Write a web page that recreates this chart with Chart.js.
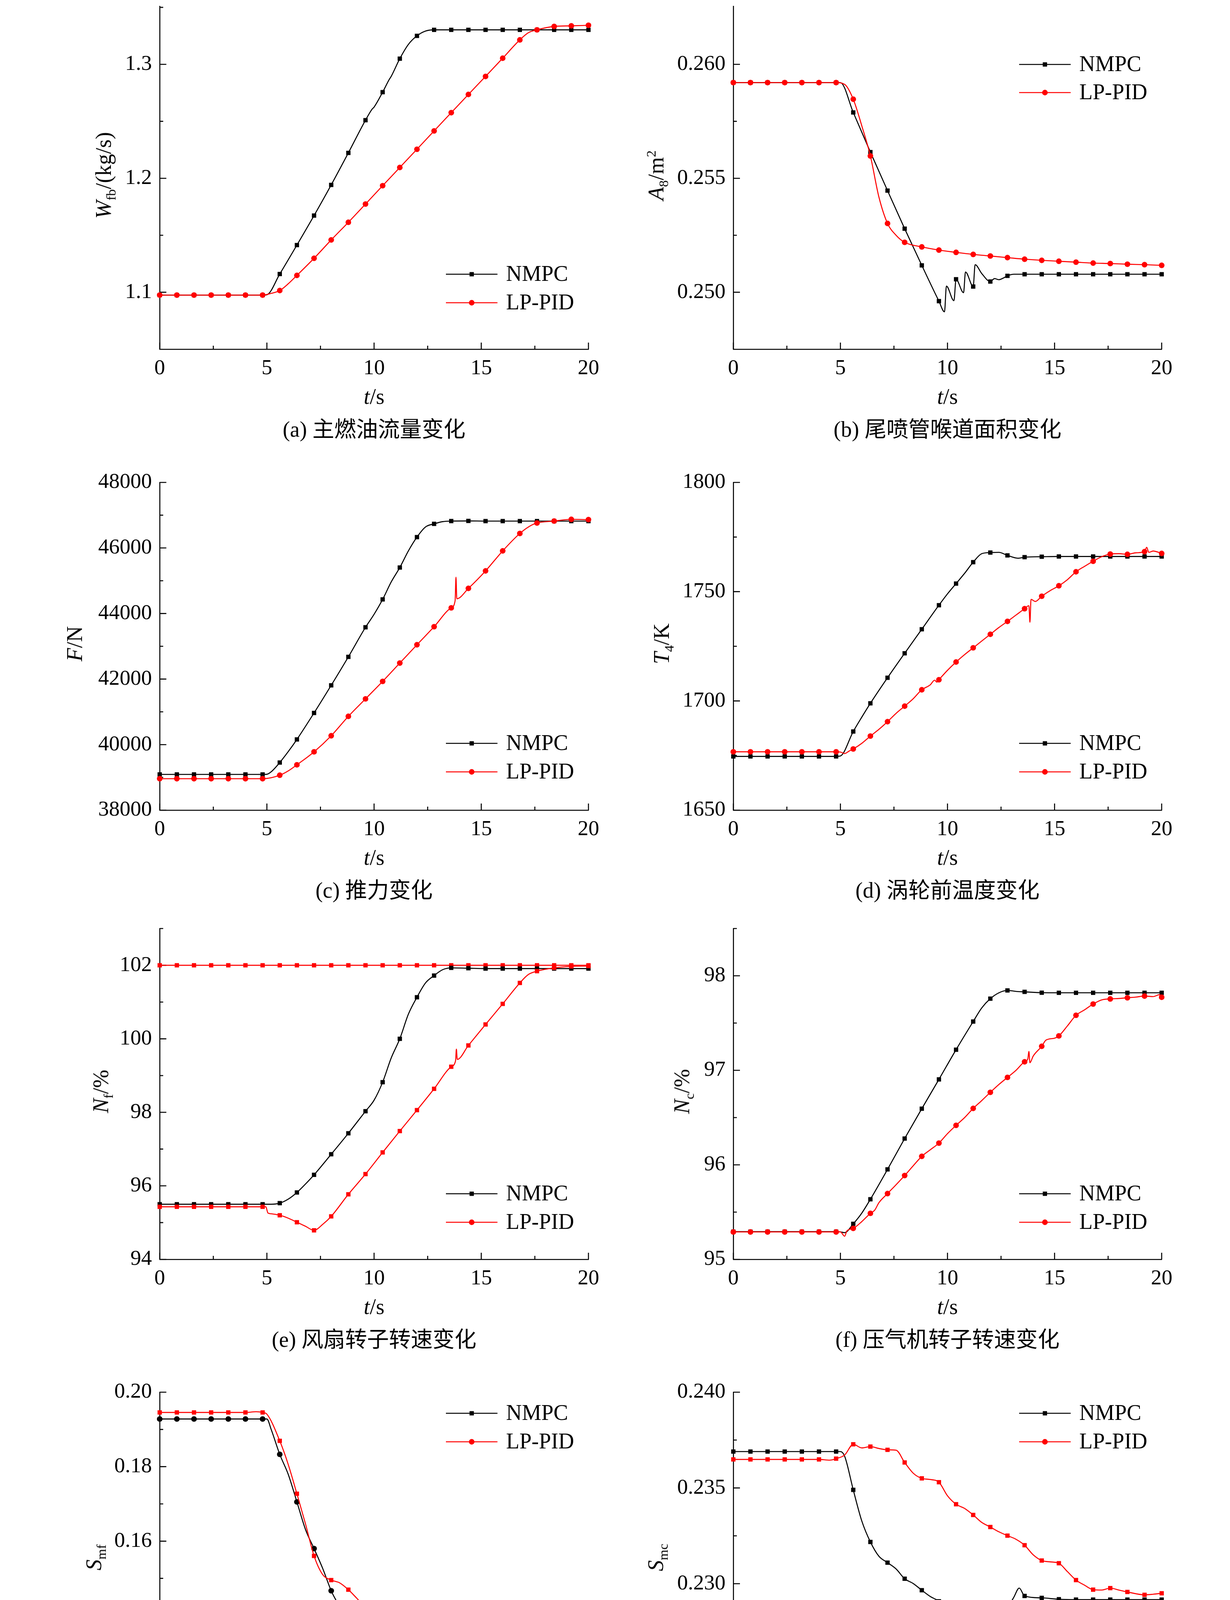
<!DOCTYPE html>
<html><head><meta charset="utf-8">
<script src="https://cdn.jsdelivr.net/npm/chart.js@4.4.1/dist/chart.umd.min.js"></script>
<style>
html,body{margin:0;padding:0;background:#fff;}
body{position:relative;width:3150px;height:4665px;overflow:hidden;font-family:'Liberation Serif','Noto Sans CJK SC',serif;color:#000;}
canvas{position:absolute;}
.t{position:absolute;white-space:nowrap;font-size:56px;line-height:1;font-family:'Liberation Serif','Noto Sans CJK SC',serif;}
.yt{transform:translate(-50%,-50%) rotate(-90deg);}
.xt{transform:translate(-50%,-50%);}
sub,sup{font-size:0.62em;line-height:0;}
</style></head><body>
<script>
// ---------------- DATA ----------------
const xMajor = [0, 5, 10, 15, 20];
const xMinor = [2.5, 7.5, 12.5, 17.5];
const markerStep = 0.8;

// (a) main fuel flow
const aTicks = [1.1, 1.2, 1.3];
const aMinor = [1.15, 1.25, 1.35];
const aNMPC = [[0,1.0975],[0.8,1.0975],[1.6,1.0975],[2.4,1.0975],[3.2,1.0975],[4,1.0975],[4.8,1.0975],[5,1.0978],[5.6,1.116],[6.4,1.1414],[7.2,1.1673],[8,1.1942],[8.8,1.2223],[9.6,1.251],[9.9,1.2605],[10,1.2625],[10.4,1.2756],[10.7,1.2865],[10.8,1.2895],[11.2,1.305],[11.6,1.3175],[12,1.325],[12.4,1.3292],[12.8,1.3303],[13.6,1.3303],[14.4,1.3303],[15.2,1.3303],[16,1.3303],[16.8,1.3303],[17.6,1.3303],[18.4,1.3303],[19.2,1.3303],[20,1.3303]];
const aPID = [[0,1.0975],[0.8,1.0975],[1.6,1.0975],[2.4,1.0975],[3.2,1.0975],[4,1.0975],[4.8,1.0975],[5.2,1.099],[5.6,1.1015],[6,1.1075],[6.4,1.1148],[7.2,1.1298],[8,1.1459],[8.8,1.1614],[9.6,1.1774],[10.4,1.1935],[11.2,1.2095],[12,1.2255],[12.8,1.2416],[13.6,1.2576],[14.4,1.2736],[15.2,1.2894],[16,1.3054],[16.8,1.3215],[17.2,1.3278],[17.6,1.3303],[18.4,1.3333],[19.2,1.3338],[20,1.3343]];

// (b) nozzle throat area
const bTicks = [0.250, 0.255, 0.260];
const bMinor = [0.2525, 0.2575];
const bNMPC = [[0,0.2592],[0.8,0.2592],[1.6,0.2592],[2.4,0.2592],[3.2,0.2592],[4,0.2592],[4.8,0.2592],[5,0.2592],[5.6,0.25789],[6.4,0.25615],[7.2,0.25446],[8,0.25279],[8.8,0.25118],[9.6,0.24961],[9.86,0.24914],[9.95,0.25027],[10.3,0.24963],[10.4,0.25057],[10.75,0.24998],[10.84,0.25089],[11.2,0.25025],[11.29,0.25121],[11.6,0.25082],[12,0.25047],[12.2,0.2506],[12.4,0.25055],[12.6,0.25062],[12.8,0.25072],[13.1,0.25079],[13.6,0.25079],[14.4,0.25079],[15.2,0.25079],[16,0.25079],[16.8,0.25079],[17.6,0.25079],[18.4,0.25079],[19.2,0.25079],[20,0.25079]];
const bPID = [[0,0.2592],[0.8,0.2592],[1.6,0.2592],[2.4,0.2592],[3.2,0.2592],[4,0.2592],[4.8,0.2592],[5.2,0.25912],[5.6,0.25847],[6,0.2573],[6.4,0.25598],[6.8,0.25417],[7.2,0.25302],[7.6,0.2525],[8,0.25219],[8.8,0.25199],[9.6,0.25185],[10.4,0.25175],[11.2,0.25166],[12,0.25159],[12.8,0.25152],[13.6,0.25145],[14.4,0.2514],[15.2,0.25136],[16,0.25132],[16.8,0.25128],[17.6,0.25126],[18.4,0.25123],[19.2,0.25121],[20,0.25118]];

// (c) thrust
const cTicks = [38000, 40000, 42000, 44000, 46000, 48000];
const cMinor = [39000, 41000, 43000, 45000, 47000];
const cNMPC = [[0,39090],[0.8,39090],[1.6,39090],[2.4,39090],[3.2,39090],[4,39090],[4.8,39090],[5,39095],[5.2,39170],[5.6,39453],[6,39790],[6.4,40158],[7.2,40966],[8,41809],[8.8,42677],[9.6,43580],[10,43976],[10.4,44431],[10.8,44964],[11.2,45403],[11.6,45910],[12,46331],[12.4,46641],[12.8,46736],[13.2,46804],[13.6,46821],[14.4,46825],[15.2,46820],[16,46820],[16.8,46820],[17.6,46820],[18.4,46820],[19.2,46820],[20,46820]];
const cPID = [[0,38960],[0.8,38960],[1.6,38960],[2.4,38960],[3.2,38960],[4,38960],[4.8,38960],[5.2,38990],[5.6,39066],[6,39200],[6.4,39384],[7.2,39780],[8,40270],[8.8,40863],[9.6,41396],[10.4,41929],[11.2,42488],[12,43047],[12.8,43597],[13.6,44173],[13.78,44390],[13.82,45110],[13.86,44450],[14.4,44767],[15.2,45300],[16,45911],[16.8,46443],[17.2,46641],[17.6,46762],[18.4,46821],[19.2,46873],[20,46865]];

// (d) turbine inlet temperature
const dTicks = [1650, 1700, 1750, 1800];
const dMinor = [1675, 1725, 1775];
const dNMPC = [[0,1674.6],[0.8,1674.6],[1.6,1674.6],[2.4,1674.6],[3.2,1674.6],[4,1674.6],[4.8,1674.6],[5,1674.8],[5.6,1686],[6,1692.6],[6.4,1698.9],[7.2,1710.6],[8,1721.8],[8.8,1732.8],[9.6,1743.8],[10,1749],[10.4,1753.7],[10.8,1758.4],[11.2,1763.5],[11.6,1767.4],[12,1767.9],[12.4,1768],[12.8,1766.6],[13.3,1765.3],[13.6,1765.8],[14.4,1766],[15.2,1766.1],[16,1766.1],[16.8,1766.1],[17.6,1766.1],[18.4,1766.1],[19.2,1766.1],[20,1766.1]];
const dPID = [[0,1676.7],[0.8,1676.7],[1.6,1676.7],[2.4,1676.7],[3.2,1676.7],[4,1676.7],[4.8,1676.7],[5,1676.6],[5.2,1675.9],[5.4,1677],[5.6,1678],[6,1680.6],[6.4,1683.9],[6.8,1687],[7.2,1690.5],[7.6,1694.3],[8,1697.6],[8.4,1701],[8.8,1705.1],[9.2,1707.4],[9.4,1709.5],[9.5,1708.6],[9.6,1709.7],[10,1714],[10.4,1717.8],[10.8,1721.2],[11.2,1724.3],[11.6,1727.4],[12,1730.5],[12.4,1733.6],[12.8,1736.4],[13.2,1739.3],[13.6,1742.2],[13.8,1743.6],[13.85,1736],[13.9,1746.5],[14.1,1745.5],[14.4,1747.9],[14.8,1750.5],[15.2,1752.7],[15.6,1755.5],[16,1759.1],[16.4,1761.6],[16.8,1763.9],[17.2,1766],[17.6,1767.2],[18,1767.4],[18.4,1767.1],[18.8,1767.8],[19.2,1768.3],[19.3,1770.3],[19.4,1768],[19.6,1768.6],[20,1767.5]];

// (e) fan speed
const eTicks = [94, 96, 98, 100, 102];
const eMinor = [95, 97, 99, 101, 103];
const eLimit = [[0,102],[0.8,102],[1.6,102],[2.4,102],[3.2,102],[4,102],[4.8,102],[5.6,102],[6.4,102],[7.2,102],[8,102],[8.8,102],[9.6,102],[10.4,102],[11.2,102],[12,102],[12.8,102],[13.6,102],[14.4,102],[15.2,102],[16,102],[16.8,102],[17.6,102],[18.4,102],[19.2,102],[20,102]];
const eNMPC = [[0,95.5],[0.8,95.5],[1.6,95.5],[2.4,95.5],[3.2,95.5],[4,95.5],[4.8,95.5],[5.2,95.5],[5.6,95.53],[6,95.64],[6.4,95.82],[6.8,96.05],[7.2,96.3],[8,96.86],[8.8,97.43],[9.6,98.03],[10,98.33],[10.4,98.82],[10.8,99.48],[11.2,100],[11.6,100.67],[12,101.13],[12.4,101.52],[12.8,101.72],[13.2,101.88],[13.6,101.93],[14.4,101.92],[15.2,101.91],[16,101.91],[16.8,101.91],[17.6,101.91],[18.4,101.91],[19.2,101.91],[20,101.91]];
const ePID = [[0,95.43],[0.8,95.43],[1.6,95.43],[2.4,95.43],[3.2,95.43],[4,95.43],[4.8,95.43],[4.95,95.43],[5.05,95.26],[5.2,95.24],[5.6,95.2],[6,95.12],[6.4,95.01],[6.8,94.9],[7.2,94.79],[7.6,94.95],[8,95.17],[8.8,95.77],[9.6,96.32],[10.4,96.91],[11.2,97.49],[12,98.06],[12.8,98.64],[13.6,99.24],[13.8,99.4],[13.84,99.72],[13.88,99.44],[14.4,99.82],[15.2,100.39],[16,100.95],[16.8,101.52],[17.2,101.75],[17.6,101.84],[18.4,101.93],[19.2,101.97],[20,101.98]];

// (f) compressor speed
const fTicks = [95, 96, 97, 98];
const fMinor = [95.5, 96.5, 97.5, 98.5];
const fNMPC = [[0,95.293],[0.8,95.293],[1.6,95.293],[2.4,95.293],[3.2,95.293],[4,95.293],[4.8,95.293],[5,95.29],[5.2,95.283],[5.6,95.376],[6,95.49],[6.4,95.636],[7.2,95.952],[8,96.278],[8.8,96.594],[9.6,96.904],[10.4,97.218],[11.2,97.516],[11.6,97.66],[12,97.758],[12.4,97.82],[12.8,97.845],[13.2,97.835],[13.6,97.83],[14.4,97.821],[15.2,97.82],[16,97.82],[16.8,97.82],[17.6,97.82],[18.4,97.82],[19.2,97.82],[20,97.82]];
const fPID = [[0,95.29],[0.8,95.29],[1.6,95.29],[2.4,95.29],[3.2,95.29],[4,95.29],[4.8,95.29],[5,95.29],[5.2,95.245],[5.3,95.3],[5.6,95.328],[6,95.4],[6.4,95.487],[6.6,95.52],[6.8,95.6],[7.2,95.696],[7.6,95.79],[8,95.887],[8.4,95.99],[8.8,96.09],[9.2,96.16],[9.6,96.23],[10,96.33],[10.4,96.418],[10.8,96.5],[11.2,96.597],[11.6,96.68],[12,96.767],[12.4,96.85],[12.8,96.925],[13.2,97],[13.6,97.09],[13.75,97.12],[13.8,97.2],[13.85,97.08],[14,97.15],[14.4,97.254],[14.6,97.32],[15,97.34],[15.2,97.364],[15.6,97.47],[16,97.582],[16.4,97.64],[16.8,97.701],[17.2,97.745],[17.6,97.755],[18,97.76],[18.4,97.767],[18.8,97.775],[19.2,97.785],[19.6,97.78],[19.9,97.8],[20,97.773]];

// (g) fan surge margin
const gTicks = [0.12, 0.14, 0.16, 0.18, 0.20];
const gMinor = [0.13, 0.15, 0.17, 0.19];
const gLimit = [[0,0.12],[20,0.12]];
const gNMPC = [[0,0.1928],[0.8,0.1928],[1.6,0.1928],[2.4,0.1928],[3.2,0.1928],[4,0.1928],[4.8,0.1928],[5,0.1928],[5.2,0.19],[5.6,0.18331],[6,0.17787],[6.4,0.17054],[6.8,0.16313],[7.2,0.158],[7.6,0.15271],[8,0.14667],[8.4,0.14198],[8.8,0.13481],[9.2,0.12839],[9.6,0.12332],[9.9,0.1197],[10.05,0.12272],[10.25,0.1213],[10.4,0.12121],[10.55,0.12249],[10.75,0.12045],[10.9,0.12234],[11.05,0.1219],[11.2,0.1206],[11.4,0.12332],[11.7,0.12135],[12,0.1206],[12.4,0.1203],[12.8,0.1203],[13.2,0.12023],[13.4,0.12083],[13.6,0.12219],[14.4,0.12227],[15.2,0.12227],[16,0.12227],[16.8,0.12227],[17.6,0.12227],[18.4,0.12227],[19.2,0.12227],[20,0.12227]];
const gPID = [[0,0.19456],[0.8,0.19456],[1.6,0.19456],[2.4,0.19456],[3.2,0.19456],[4,0.19456],[4.5,0.19475],[4.8,0.19456],[5,0.1941],[5.6,0.18693],[6,0.18051],[6.4,0.17273],[6.8,0.16465],[7.2,0.15604],[7.6,0.15105],[8,0.14954],[8.4,0.14878],[8.8,0.14697],[9.2,0.14463],[9.6,0.14229],[10,0.14183],[10.4,0.1413],[10.8,0.13972],[11.2,0.13851],[11.6,0.13775],[12,0.13632],[12.4,0.13481],[12.8,0.13375],[13.2,0.13216],[13.6,0.13126],[14,0.13103],[14.4,0.13005],[14.8,0.12839],[15.2,0.12642],[15.6,0.12597],[16,0.12574],[16.4,0.12499],[16.8,0.1237],[17.2,0.12249],[17.6,0.12174],[18,0.12144],[18.4,0.12151],[19.2,0.12174],[20,0.12151]];

// (h) compressor surge margin
const hTicks = [0.225, 0.230, 0.235, 0.240];
const hMinor = [0.2275, 0.2325, 0.2375];
const hNMPC = [[0,0.2369],[0.8,0.2369],[1.6,0.2369],[2.4,0.2369],[3.2,0.2369],[4,0.2369],[4.8,0.2369],[5,0.2369],[5.2,0.23665],[5.6,0.2349],[6,0.23327],[6.4,0.23218],[6.8,0.23143],[7.2,0.2311],[7.6,0.23077],[8,0.23026],[8.4,0.23001],[8.8,0.22966],[9.2,0.22933],[9.6,0.22908],[9.85,0.2288],[9.95,0.2284],[10.1,0.22747],[10.4,0.22713],[10.6,0.22673],[10.75,0.22695],[10.9,0.22629],[11.2,0.22643],[11.5,0.22548],[11.7,0.22593],[12,0.22679],[12.4,0.22769],[12.8,0.22869],[13.1,0.2293],[13.35,0.22977],[13.6,0.22936],[14.4,0.22926],[15.2,0.22919],[16,0.22917],[16.8,0.22917],[17.6,0.22917],[18.4,0.22917],[19.2,0.22917],[20,0.22917]];
const hPID = [[0,0.23649],[0.8,0.23649],[1.6,0.23649],[2.4,0.23649],[3.2,0.23649],[4,0.23649],[4.5,0.23645],[4.8,0.23653],[5.2,0.23672],[5.6,0.23728],[6,0.23709],[6.4,0.23716],[6.8,0.23706],[7.2,0.23699],[7.6,0.23697],[8,0.23633],[8.4,0.23577],[8.8,0.2355],[9.2,0.23544],[9.6,0.2353],[10,0.23459],[10.4,0.23415],[10.8,0.23393],[11.2,0.23359],[11.6,0.2332],[12,0.23296],[12.4,0.23271],[12.8,0.23251],[13.2,0.23232],[13.6,0.23201],[14,0.23151],[14.4,0.23121],[14.8,0.23114],[15.2,0.23107],[15.6,0.23063],[16,0.23019],[16.4,0.22992],[16.8,0.22969],[17.2,0.22967],[17.6,0.22977],[18,0.22967],[18.4,0.22957],[19.2,0.22942],[19.6,0.22945],[20,0.2295]];

// ---------------- LAYOUT / STYLE ----------------
const K = '#000000', R = '#ff0000', B = '#0000c8';
const COLS = [[409,1507],[1878,2975]];
const ROWS = [[3,894],[1222,2074],[2364,3224],[3551,4422]];
const AXW = 200, PT = 40, PR = 60, AXH = 100;
const AXLW = 2.6, MAJ = 17, MIN = 9;
const TICKFONT = 55, LEGFONT = 56;
const SERIF = '"Liberation Serif", "Times New Roman", serif';

const panels = [
  {col:0,row:0,yMin:1.05,yMax:1.351,yMajor:aTicks,yMinor:aMinor,dec:1,
   series:[{label:'NMPC',data:aNMPC,color:K,marker:'rect'},{label:'LP-PID',data:aPID,color:R,marker:'circle'}],
   legend:{from:'bottom',dy:[-192,-119]},ytitle:'<i>W</i><sub>fb</sub>/(kg/s)',ytx:265,caption:'(a) 主燃油流量变化'},
  {col:1,row:0,yMin:0.2475,yMax:0.26255,yMajor:bTicks,yMinor:bMinor,dec:3,
   series:[{label:'NMPC',data:bNMPC,color:K,marker:'rect'},{label:'LP-PID',data:bPID,color:R,marker:'circle'}],
   legend:{from:'top',dy:[149,221]},ytitle:'<i>A</i><sub>8</sub>/m<sup>2</sup>',ytx:1680,caption:'(b) 尾喷管喉道面积变化'},
  {col:0,row:1,yMin:38000,yMax:48000,yMajor:cTicks,yMinor:cMinor,dec:0,
   series:[{label:'NMPC',data:cNMPC,color:K,marker:'rect'},{label:'LP-PID',data:cPID,color:R,marker:'circle'}],
   legend:{from:'bottom',dy:[-171,-98]},ytitle:'<i>F</i>/N',ytx:191,caption:'(c) 推力变化'},
  {col:1,row:1,yMin:1650,yMax:1800,yMajor:dTicks,yMinor:dMinor,dec:0,
   series:[{label:'NMPC',data:dNMPC,color:K,marker:'rect'},{label:'LP-PID',data:dPID,color:R,marker:'circle'}],
   legend:{from:'bottom',dy:[-171,-98]},ytitle:'<i>T</i><sub>4</sub>/K',ytx:1694,caption:'(d) 涡轮前温度变化'},
  {col:0,row:2,yMin:94,yMax:103,yMajor:eTicks,yMinor:eMinor,dec:0,
   series:[{label:'NMPC',data:eNMPC,color:K,marker:'rect'},{label:'LP-PID',data:ePID,color:R,marker:'rect'},{label:'limit',data:eLimit,color:R,marker:'rect',extra:true}],
   legend:{from:'bottom',dy:[-168,-95]},ytitle:'<i>N</i><sub>f</sub>/%',ytx:258,caption:'(e) 风扇转子转速变化'},
  {col:1,row:2,yMin:95,yMax:98.5,yMajor:fTicks,yMinor:fMinor,dec:0,
   series:[{label:'NMPC',data:fNMPC,color:K,marker:'rect'},{label:'LP-PID',data:fPID,color:R,marker:'circle'}],
   legend:{from:'bottom',dy:[-168,-95]},ytitle:'<i>N</i><sub>c</sub>/%',ytx:1746,caption:'(f) 压气机转子转速变化'},
  {col:0,row:3,yMin:0.11,yMax:0.20,yMajor:gTicks,yMinor:gMinor,dec:2,
   series:[{label:'NMPC',data:gNMPC,color:K,marker:'circle'},{label:'LP-PID',data:gPID,color:R,marker:'rect'},{label:'limit',data:gLimit,color:B,marker:null,dash:[15,7],extra:true}],
   legend:{from:'top',dy:[54,127]},ytitle:'<i>S</i><sub>mf</sub>',ytx:240,caption:'(g) 风扇喘振裕度变化'},
  {col:1,row:3,yMin:0.2225,yMax:0.240,yMajor:hTicks,yMinor:hMinor,dec:3,
   series:[{label:'NMPC',data:hNMPC,color:K,marker:'rect'},{label:'LP-PID',data:hPID,color:R,marker:'rect'}],
   legend:{from:'top',dy:[54,127]},ytitle:'<i>S</i><sub>mc</sub>',ytx:1679,caption:'(h) 压气机振裕度变化'}
];

function isMark(t){ const q = t / markerStep; return Math.abs(q - Math.round(q)) < 1e-6; }
function markerRadius(m){ return m === 'rect' ? 7.8 : 7.2; }

function drawMarker(c, style, x, y, color){
  c.fillStyle = color;
  if (style === 'rect') { const s = markerRadius('rect') * Math.SQRT1_2; c.fillRect(x - s, y - s, 2*s, 2*s); }
  else if (style === 'circle') { c.beginPath(); c.arc(x, y, markerRadius('circle'), 0, Math.PI*2); c.fill(); }
}

function ticksPlugin(p){
  return { id:'inTicks', beforeDatasetsDraw(chart){
    const c = chart.ctx, ca = chart.chartArea, xs = chart.scales.x, ys = chart.scales.y;
    c.save(); c.strokeStyle = '#000'; c.lineWidth = AXLW; c.lineCap = 'butt'; c.beginPath();
    p.yMajor.forEach(v => { const y = ys.getPixelForValue(v); c.moveTo(ca.left, y); c.lineTo(ca.left + MAJ, y); });
    p.yMinor.forEach(v => { const y = ys.getPixelForValue(v); c.moveTo(ca.left, y); c.lineTo(ca.left + MIN, y); });
    xMajor.forEach(v => { const x = xs.getPixelForValue(v); c.moveTo(x, ca.bottom); c.lineTo(x, ca.bottom - MAJ); });
    xMinor.forEach(v => { const x = xs.getPixelForValue(v); c.moveTo(x, ca.bottom); c.lineTo(x, ca.bottom - MIN); });
    c.stroke(); c.restore();
  }};
}

function legendPlugin(p){
  return { id:'inLegend', afterDraw(chart){
    const c = chart.ctx, ca = chart.chartArea;
    const entries = [
      {label: p.series[0].label, color: K, marker: 'rect'},
      {label: p.series[1].label, color: R, marker: 'circle'}
    ];
    const x0 = ca.right - 365, len = 132;
    c.save();
    entries.forEach((e, i) => {
      const y = p.legend.from === 'top' ? ca.top + p.legend.dy[i] : ca.bottom + p.legend.dy[i];
      c.strokeStyle = e.color; c.lineWidth = 2.6; c.beginPath(); c.moveTo(x0, y); c.lineTo(x0 + len, y); c.stroke();
      drawMarker(c, e.marker, x0 + len/2, y, e.color);
      c.fillStyle = '#000'; c.font = LEGFONT + 'px ' + SERIF; c.textBaseline = 'middle'; c.textAlign = 'left';
      c.fillText(e.label, x0 + 154, y + 2);
    });
    c.restore();
  }};
}

function addText(cls, html, x, y){
  const d = document.createElement('div'); d.className = 't ' + cls; d.innerHTML = html;
  d.style.left = x + 'px'; d.style.top = y + 'px'; document.body.appendChild(d);
}

panels.forEach(p => {
  const [pl, pr] = COLS[p.col], [ptop, pb] = ROWS[p.row];
  const W = AXW + (pr - pl) + PR, H = PT + (pb - ptop) + AXH;
  const cv = document.createElement('canvas');
  cv.width = W; cv.height = H;
  cv.style.left = (pl - AXW) + 'px'; cv.style.top = (ptop - PT) + 'px';
  cv.style.width = W + 'px'; cv.style.height = H + 'px';
  document.body.appendChild(cv);

  const datasets = p.series.map((s, i) => ({
    label: s.label,
    data: s.data.map(([x, y]) => ({x, y})),
    borderColor: s.color, backgroundColor: s.color,
    pointBackgroundColor: s.color, pointBorderColor: s.color,
    borderWidth: s.dash ? 2.8 : 2.6,
    borderDash: s.dash || [],
    pointStyle: s.marker || 'circle',
    pointRadius: ctx => { const r = ctx.raw; if (!r || !s.marker) return 0; return isMark(r.x) ? markerRadius(s.marker) : 0; },
    pointHoverRadius: 0, pointBorderWidth: 0, pointHitRadius: 0,
    cubicInterpolationMode: 'monotone', tension: 0,
    clip: 14,
    order: s.extra ? 3 : (i === 0 ? 2 : 1)
  }));

  new Chart(cv, {
    type: 'line',
    data: { datasets },
    options: {
      responsive: false, animation: false, devicePixelRatio: 1,
      layout: { padding: { top: PT, right: PR, left: 0, bottom: 0 } },
      events: [],
      plugins: { legend: { display: false }, tooltip: { enabled: false } },
      scales: {
        x: {
          type: 'linear', min: 0, max: 20,
          afterBuildTicks: sc => { sc.ticks = xMajor.map(v => ({value: v})); },
          afterFit: sc => { sc.height = AXH; },
          grid: { display: false, drawTicks: false },
          border: { display: true, color: '#000', width: AXLW },
          ticks: { autoSkip: false, maxRotation: 0, padding: 17, color: '#000',
                   font: { family: SERIF, size: TICKFONT },
                   callback: v => String(v) }
        },
        y: {
          type: 'linear', min: p.yMin, max: p.yMax,
          afterBuildTicks: sc => { sc.ticks = p.yMajor.map(v => ({value: v})); },
          afterFit: sc => { sc.width = AXW; },
          grid: { display: false, drawTicks: false },
          border: { display: true, color: '#000', width: AXLW },
          ticks: { autoSkip: false, padding: 20, color: '#000',
                   font: { family: SERIF, size: TICKFONT },
                   callback: v => Number(v).toFixed(p.dec) }
        }
      }
    },
    plugins: [ticksPlugin(p), legendPlugin(p)]
  });

  const cx = (pl + pr) / 2;
  addText('yt', p.ytitle, p.ytx, (ptop + pb) / 2);
  addText('xt', '<i>t</i>/s', cx, pb + 121);
  addText('xt', p.caption, cx, pb + 205);
});
</script>
</body></html>
